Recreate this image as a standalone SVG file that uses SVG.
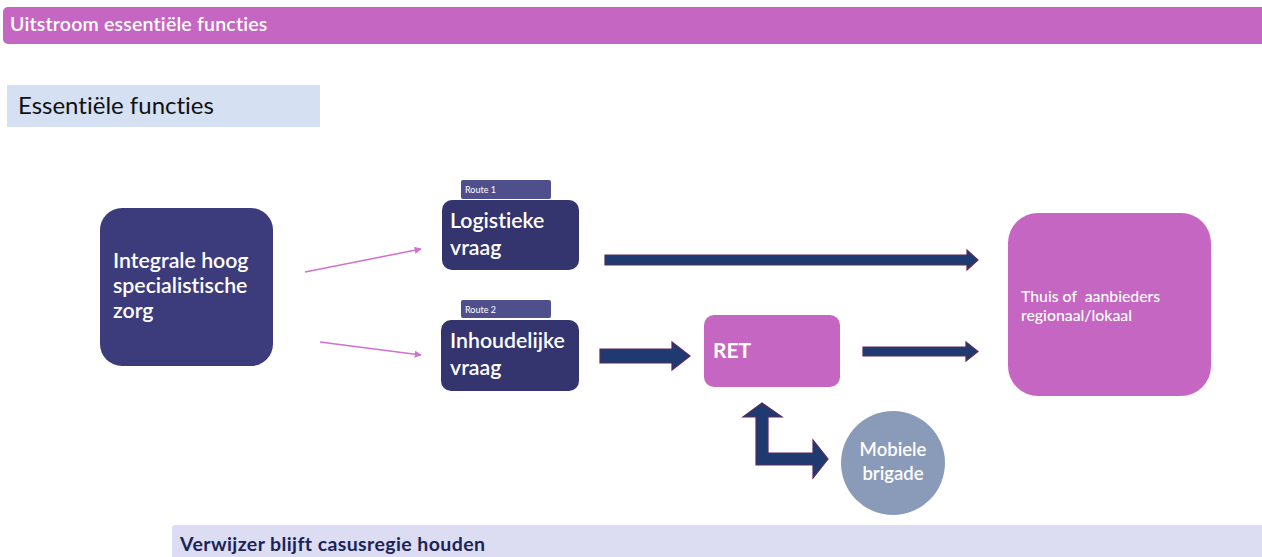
<svg xmlns="http://www.w3.org/2000/svg" width="1262" height="557" viewBox="0 0 1262 557">
  <defs>
    <style>
      text { font-family: Lato, "Open Sans", "Liberation Sans", sans-serif; font-variant-ligatures: none; }
      .white { fill: #ffffff; }
      .label { font-size: 21.3px; font-weight: 600; fill: #ffffff; }
      .navy { fill: #34346e; }
      .pink { fill: #c566c2; }
      .tab { fill: #4f4f8d; }
      .block { fill: #1e3a70; stroke: #5a2a5a; stroke-width: 1.2; }
      .thin { stroke: #d070d0; stroke-width: 1.5; fill: none; }
    </style>
    <marker id="pinkHead" viewBox="0 0 10 10" refX="9" refY="5" markerWidth="7" markerHeight="7" markerUnits="userSpaceOnUse" orient="auto">
      <path d="M0,0 L10,5 L0,10 Z" fill="#d070d0"/>
    </marker>
  </defs>

  <rect width="1262" height="557" fill="#ffffff"/>

  <!-- title banner -->
  <g id="banner-top">
    <rect x="3" y="7" width="1265" height="37" rx="5" class="pink"/>
    <text x="10" y="31" font-size="19.5" font-weight="600" letter-spacing="0.2" class="white">Uitstroom essentiële functies</text>
  </g>

  <!-- section heading -->
  <g id="heading">
    <rect x="7" y="85" width="313" height="42" fill="#d6e0f3"/>
    <text x="18" y="114" font-size="24" fill="#111111">Essentiële functies</text>
  </g>

  <!-- nodes -->
  <g id="node-integrale">
    <rect x="100" y="208" width="173" height="158" rx="22" fill="#3c3c7c"/>
    <text x="113" y="268" class="label">Integrale hoog</text>
    <text x="113" y="293" class="label">specialistische</text>
    <text x="113" y="318" class="label">zorg</text>
  </g>

  <g id="node-logistieke">
    <rect x="461" y="180" width="90" height="19" rx="2" class="tab"/>
    <text x="465" y="193" font-size="9" class="white">Route 1</text>
    <rect x="442" y="200" width="137" height="70" rx="10" class="navy"/>
    <text x="450" y="228" class="label">Logistieke</text>
    <text x="450" y="255" class="label">vraag</text>
  </g>

  <g id="node-inhoudelijke">
    <rect x="461" y="300" width="90" height="18" rx="2" class="tab"/>
    <text x="465" y="313" font-size="9" class="white">Route 2</text>
    <rect x="441" y="320" width="138" height="71" rx="10" class="navy"/>
    <text x="450" y="348" class="label">Inhoudelijke</text>
    <text x="450" y="375" class="label">vraag</text>
  </g>

  <g id="node-ret">
    <rect x="704" y="315" width="136" height="72" rx="10" class="pink"/>
    <text x="713" y="358" font-size="21" font-weight="700" class="white">RET</text>
  </g>

  <g id="node-thuis">
    <rect x="1008" y="213" width="203" height="183" rx="30" class="pink"/>
    <text x="1021" y="302" font-size="15.8" font-weight="500" class="white" xml:space="preserve">Thuis of  aanbieders</text>
    <text x="1021" y="321" font-size="15.8" font-weight="500" class="white">regionaal/lokaal</text>
  </g>

  <g id="node-mobiele">
    <circle cx="893" cy="463" r="52" fill="#8a9bba"/>
    <text x="893" y="456" font-size="18.5" font-weight="600" text-anchor="middle" class="white">Mobiele</text>
    <text x="893" y="480" font-size="18.5" font-weight="600" text-anchor="middle" class="white">brigade</text>
  </g>

  <!-- connectors -->
  <g id="connectors">
    <line x1="305" y1="272" x2="421" y2="249" class="thin" marker-end="url(#pinkHead)"/>
    <line x1="320" y1="342" x2="421" y2="355" class="thin" marker-end="url(#pinkHead)"/>
    <!-- Logistieke to Thuis -->
    <path class="block" d="M605,255 L967,255 L967,250 L978,260 L967,270 L967,265 L605,265 Z"/>
    <!-- Inhoudelijke to RET -->
    <path class="block" d="M600,349 L672,349 L672,342 L690,356 L672,370 L672,363 L600,363 Z"/>
    <!-- RET to Thuis -->
    <path class="block" d="M863,347 L966,347 L966,342 L978,351.5 L966,361 L966,356 L863,356 Z"/>
    <!-- RET and Mobiele brigade, two-headed elbow -->
    <path class="block" d="M762,403 L782,417 L768,417 L768,453 L813,453 L813,440 L828,459 L813,478 L813,465 L756,465 L756,417 L743,417 Z"/>
  </g>

  <!-- footer banner -->
  <g id="banner-bottom">
    <rect x="172" y="525" width="1095" height="35" rx="3" fill="#dcdcf3"/>
    <text x="180" y="551" font-size="19.5" font-weight="700" letter-spacing="0.4" fill="#1b2456">Verwijzer blijft casusregie houden</text>
  </g>
</svg>
